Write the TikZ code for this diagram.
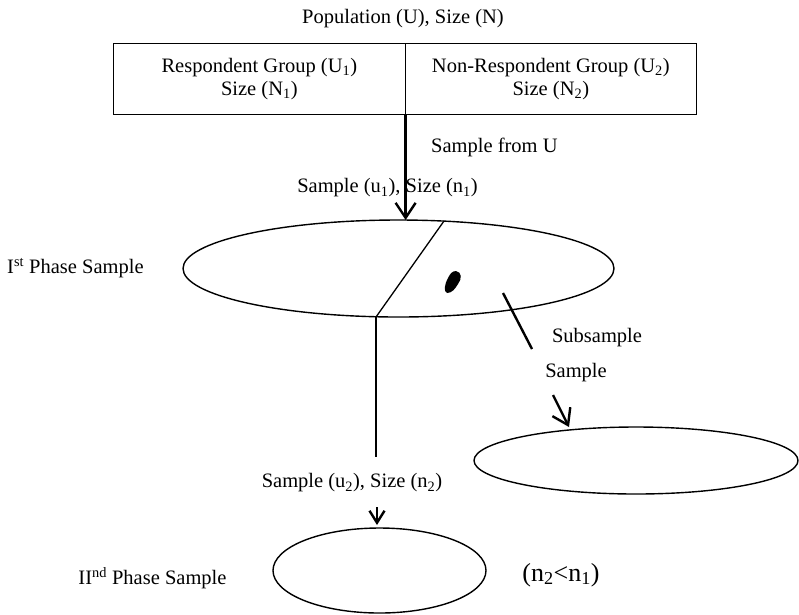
\documentclass[tikz,border=0pt]{standalone}
\usepackage{fontspec}
\setmainfont{Liberation Serif}
\usetikzlibrary{shapes.geometric,arrows.meta}
\begin{document}
\begin{tikzpicture}[x=1pt,y=-1pt,
  every node/.style={font=\fontsize{20.5}{23}\selectfont, inner sep=0pt},
  grp/.style={draw, line width=1.1pt, minimum width=291.5pt, minimum height=71pt, align=center, anchor=north west},
  oval/.style={draw, ellipse, line width=1.4pt, inner sep=0pt, outer sep=0pt},
  thick line/.style={line width=2.4pt},
  barb/.style={line width=2.4pt, -{Straight Barb[length=15pt,width=20pt]}},
  lbl/.style={}]
\useasboundingbox (0,0) rectangle (799,614);

% population box
\node[lbl] (pop) at (403,19) {Population (U), Size (N)};
\node[grp] (resp) at (113,43) {Respondent Group (U\textsubscript{1})\\Size (N\textsubscript{1})};
\node[grp] (nonresp) at (404.5,43) {Non-Respondent Group (U\textsubscript{2})\\Size (N\textsubscript{2})};

% ellipses
\node[oval, minimum width=431pt, minimum height=97pt] (e1) at (398.5,268.5) {};
\node[oval, minimum width=324pt, minimum height=67pt] (e2) at (636,460.5) {};
\node[oval, minimum width=213pt, minimum height=85pt] (e3) at (379.5,570.5) {};

% labels
\node[lbl, anchor=west] (sfu) at (431,147) {Sample from U};
\node[lbl] (s1) at (387.5,188) {Sample (u\textsubscript{1}), Size (n\textsubscript{1})};
\node[lbl, anchor=west] (ph1) at (7,268) {I\textsuperscript{st} Phase Sample};
\node[lbl] (sub) at (597,338) {Subsample};
\node[lbl] (smp) at (576,373) {Sample};
\node[lbl] (s2) at (352,483) {Sample (u\textsubscript{2}), Size (n\textsubscript{2})};
\node[lbl] (ph2) at (152.5,578) {II\textsuperscript{nd} Phase Sample};
\node[lbl, font=\fontsize{26}{30}\selectfont] (cmp) at (561,575) {(n\textsubscript{2}<n\textsubscript{1})};

% coordinates
\coordinate (d1) at (444,221);
\coordinate (d2) at (376,317);
\coordinate (d3) at (376,457);
\coordinate (k1) at (503,293);
\coordinate (k2) at (532,349);
\coordinate (a2s) at (553,395);
\coordinate (a2e) at (569,427);
\coordinate (a3s) at (377,507);
\coordinate (a3e) at (377,525);

% connectors
\draw[barb] (resp.south east) -- (resp.south east |- e1.north);
\draw[line width=1.3pt] (d1) -- (d2);
\draw[thick line] (d2) -- (d3);
\draw[thick line] (k1) -- (k2);
\draw[barb] (a2s) -- (a2e);
\draw[line width=2.4pt, -{Straight Barb[length=12pt,width=15pt]}] (a3s) -- (a3e);

% blob
\fill (456,271) .. controls (462,272) and (462,279) .. (458,284)
  .. controls (455,289) and (452,293) .. (447,293)
  .. controls (443,292) and (445,283) .. (448,278)
  .. controls (450,274) and (452,271) .. (456,271) -- cycle;
\end{tikzpicture}
\end{document}
